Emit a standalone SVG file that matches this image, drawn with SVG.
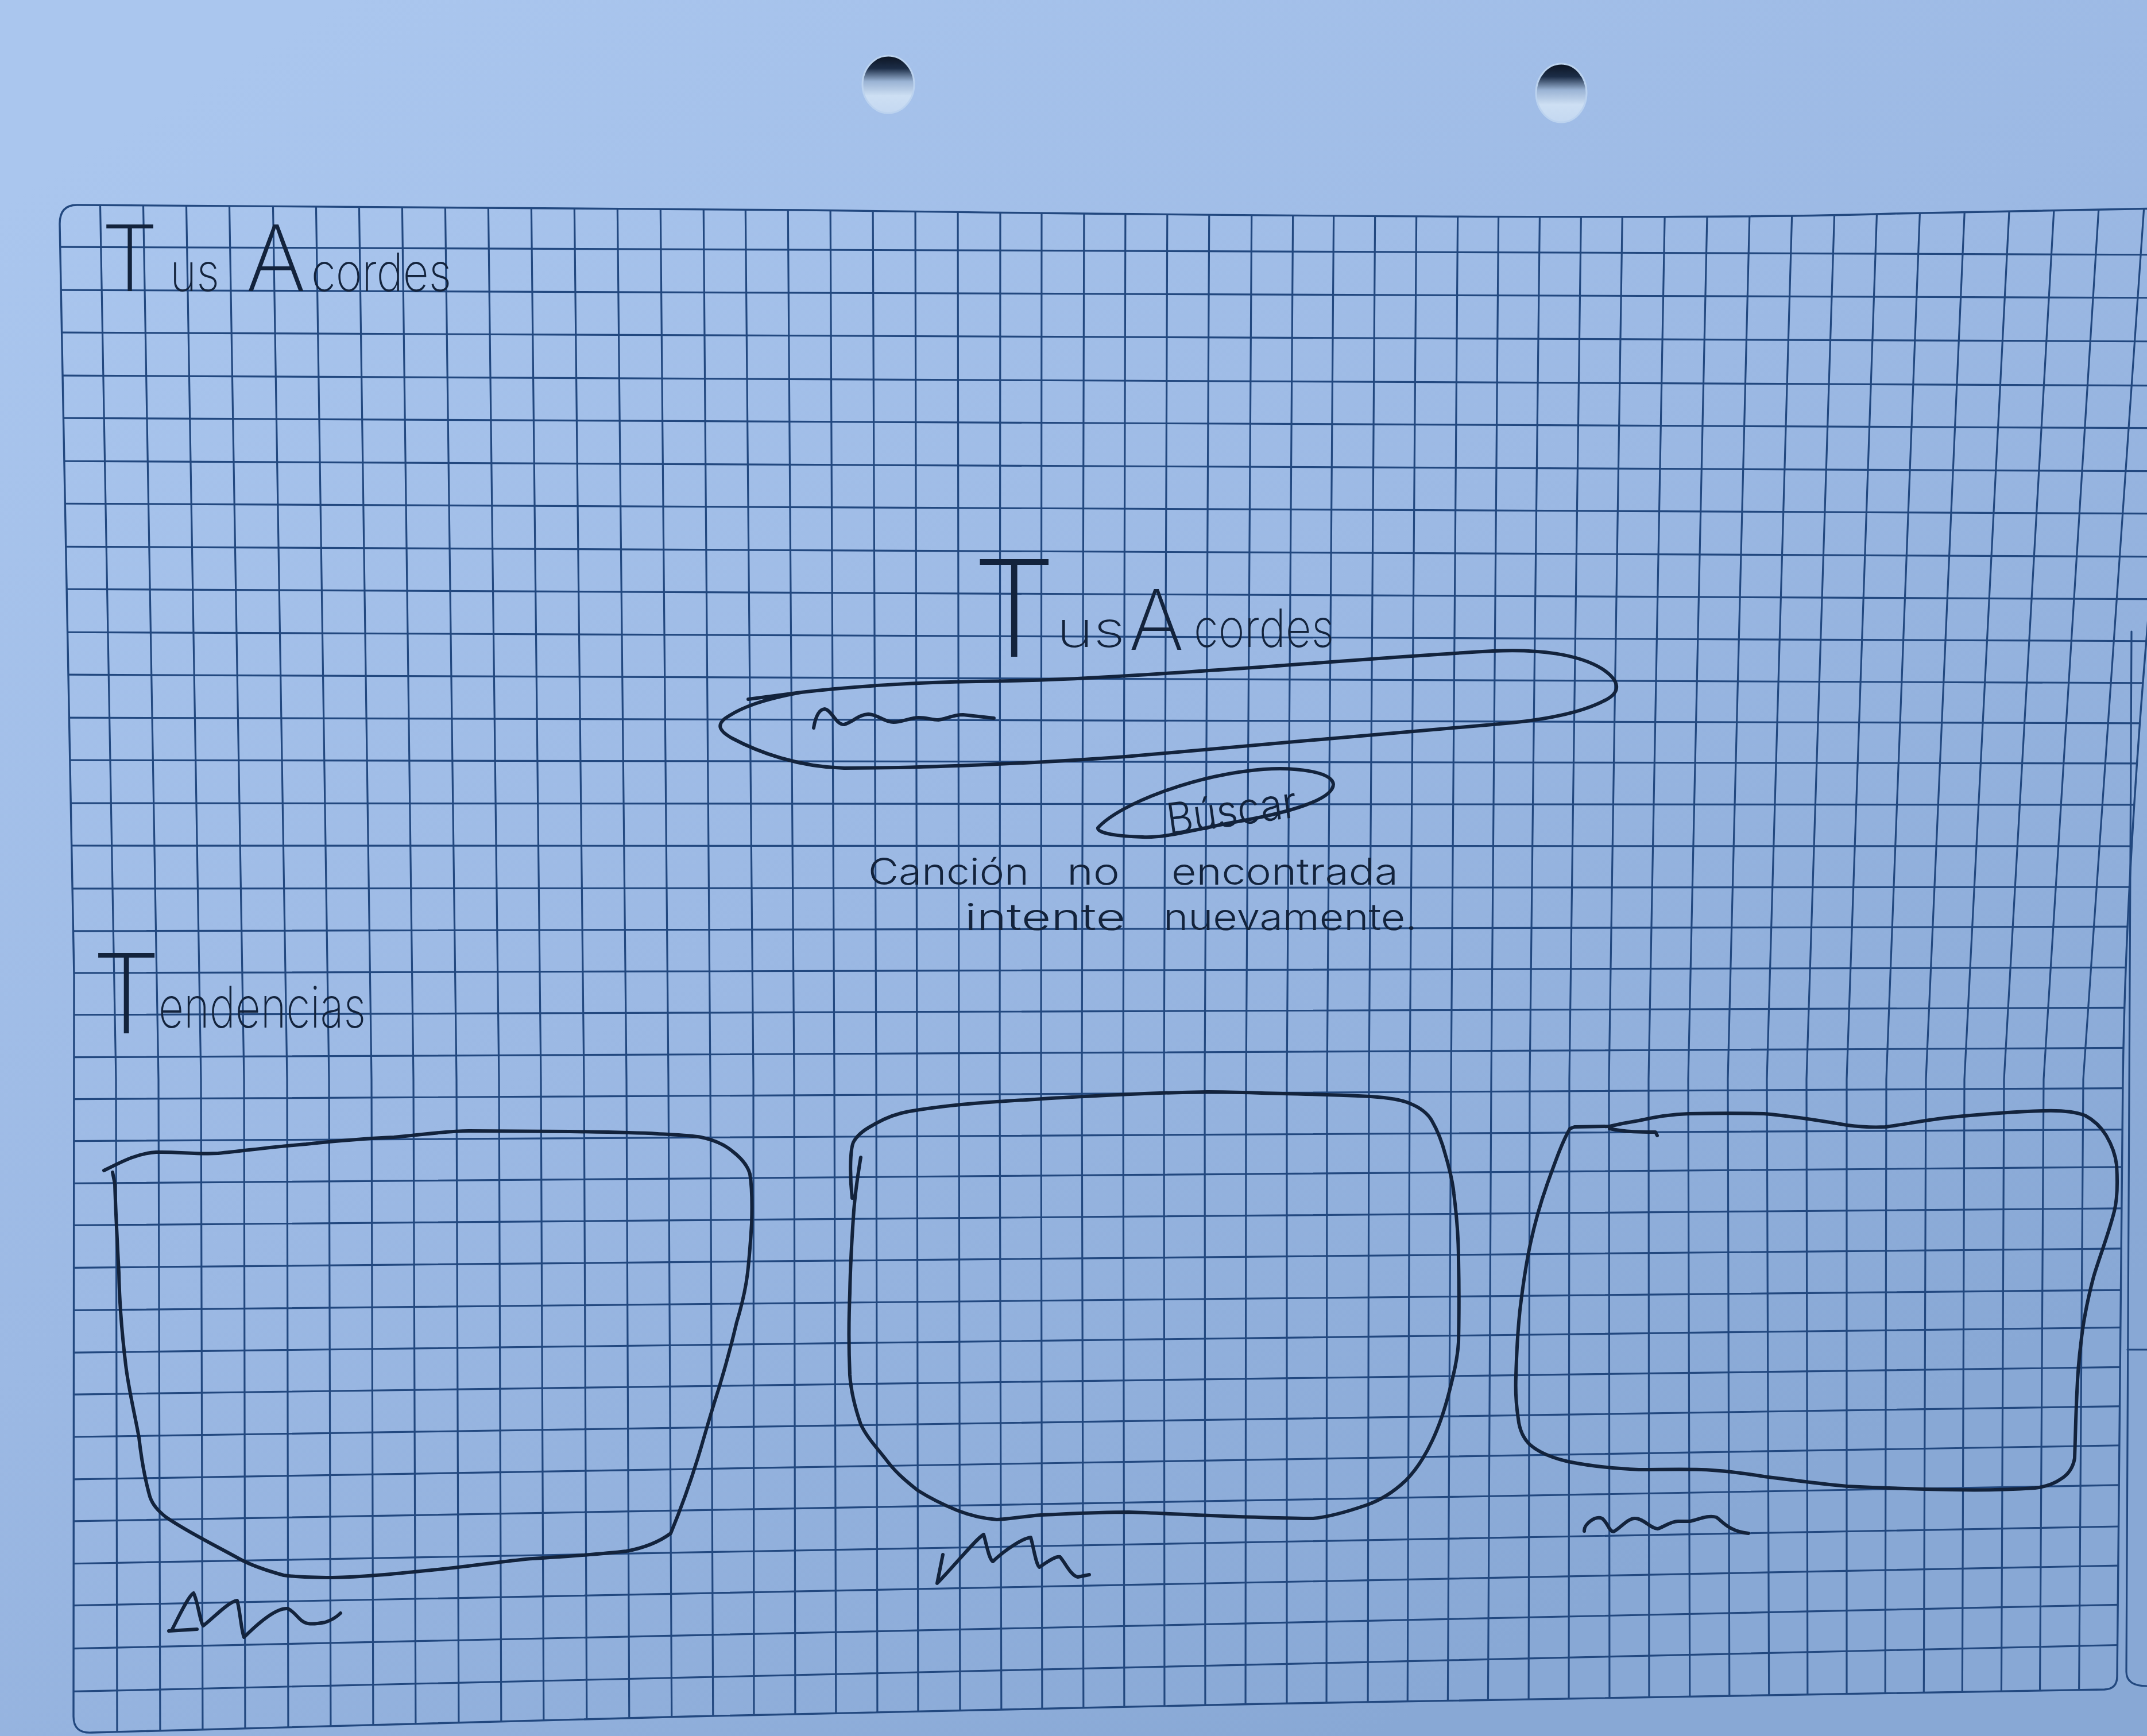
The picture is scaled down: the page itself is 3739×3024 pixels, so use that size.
<svg xmlns="http://www.w3.org/2000/svg" width="3739" height="3024" viewBox="0 0 3739 3024">
  <defs>
    <style>
      .grid { fill: none; stroke: #22487f; stroke-width: 3.2; stroke-linecap: round; stroke-linejoin: round; }
      .edge { fill: none; stroke: #22487f; stroke-width: 3.4; stroke-linejoin: round; }
      .ink { fill: none; stroke: #13233c; stroke-width: 6; stroke-linecap: round; stroke-linejoin: round; }
      .hand { font-family: Inter, "Open Sans", Roboto, "DejaVu Sans", sans-serif; font-weight: 200; fill: #13233c; }
      .small { font-weight: 300; }
    </style>
    <linearGradient id="paper" gradientUnits="userSpaceOnUse" x1="600" y1="0" x2="2400" y2="3024">
      <stop offset="0" stop-color="#aac6ee"/>
      <stop offset="0.5" stop-color="#9cb9e4"/>
      <stop offset="1" stop-color="#88a8d5"/>
    </linearGradient>
    <linearGradient id="hole" x1="0" y1="0" x2="0" y2="1">
      <stop offset="0" stop-color="#0c1422"/>
      <stop offset="0.22" stop-color="#1c2d47"/>
      <stop offset="0.45" stop-color="#9ab3d4"/>
      <stop offset="0.7" stop-color="#cddff3"/>
      <stop offset="1" stop-color="#c4d8f1"/>
    </linearGradient>
    <clipPath id="sheet">
      <path id="sheetEdge" d="M104,390 Q104,357 134,357 L1400,366 Q2900,386 3300,372 L3814,362 Q3705,1300 3697,1880 L3687,2920 Q3687,2942 3665,2943 L2200,2968 L1200,2990 L160,3018 Q128,3020 128,2990 L129,1700 Z"/>
    </clipPath>
  </defs>

  <!-- paper -->
  <rect x="0" y="0" width="3739" height="3024" fill="url(#paper)"/>

  <!-- punched holes -->
  <g id="holes">
    <ellipse cx="1547" cy="147" rx="45" ry="50" fill="url(#hole)" stroke="#bcd3ef" stroke-width="3"/>
    <ellipse cx="2719" cy="162" rx="44" ry="51" fill="url(#hole)" stroke="#bcd3ef" stroke-width="3"/>
  </g>

  <!-- edge of the sheet underneath -->
  <g id="next-sheet" class="grid">
    <path d="M3712,1100 L3703,2912 Q3703,2937 3739,2937"/>
    <path d="M3705,2351 L3739,2351"/>
  </g>

  <!-- squared grid of the sheet -->
  <g id="grid" clip-path="url(#sheet)">
    <path class="grid" d="M174,330L202,1880L204,3040 M249,330L276,1880L279,3040 M324,330L350,1880L353,3040 M399,330L425,1880L427,3040 M475,330L500,1880L502,3040 M550,330L573,1880L576,3040 M625,330L647,1880L650,3040 M700,330L720,1880L724,3040 M775,330L795,1880L799,3040 M850,330L869,1880L873,3040 M925,330L942,1880L947,3040 M1000,330L1017,1880L1022,3040 M1075,330L1091,1880L1096,3040 M1150,330L1164,1880L1170,3040 M1225,330L1237,1880L1242,3040 M1298,330L1312,1880L1313,3040 M1372,330L1383,1880L1385,3040 M1446,330L1453,1880L1456,3040 M1520,330L1526,1880L1528,3040 M1594,330L1597,1880L1599,3040 M1668,330L1670,1880L1672,3040 M1742,330L1741,1880L1744,3040 M1814,330L1813,1880L1815,3040 M1888,330L1884,1880L1887,3040 M1960,330L1956,1880L1958,3040 M2033,330L2027,1880L2028,3040 M2106,330L2098,1880L2099,3040 M2180,330L2170,1880L2169,3040 M2252,330L2241,1880L2241,3040 M2323,330L2311,1880L2310,3040 M2395,330L2384,1880L2382,3040 M2467,330L2455,1880L2451,3040 M2539,330L2527,1880L2521,3040 M2610,330L2597,1880L2591,3040 M2682,330L2664,1880L2662,3040 M2754,330L2733,1880L2732,3040 M2826,330L2802,1880L2803,3040 M2900,330L2871,1880L2872,3040 M2974,330L2940,1880L2943,3040 M3048,330L3009,1880L3012,3040 M3122,330L3077,1880L3081,3040 M3196,330L3146,1880L3148,3040 M3270,330L3216,1880L3216,3040 M3345,330L3285,1880L3283,3040 M3423,330L3354,1880L3350,3040 M3501,330L3421,1880L3417,3040 M3579,330L3490,1880L3485,3040 M3657,330L3559,1880L3552,3040 M3736,330L3628,1880L3620,3040"/>
    <path class="grid" d="M60,430L3800,444 M60,505L3800,519 M60,579L3800,595 M60,654L3800,672 M60,728L3800,746 M60,803L3800,821 M60,877L3800,895 M60,952L3800,970 M60,1026L3800,1044 M60,1101L3800,1117 M60,1175L3800,1190 M60,1250L3800,1260 M60,1324L3800,1330 M60,1399L3800,1402 M60,1473L3800,1474 M60,1548L3800,1545 M60,1622L3800,1614 M60,1695L3800,1685 M60,1768L3800,1755 M60,1842L3800,1825 M60,1915L3800,1895 M60,1988L3800,1967 M60,2062L3800,2032 M60,2135L3800,2104 M60,2209L3800,2174 M60,2283L3800,2246 M60,2357L3800,2311 M60,2430L3800,2380 M60,2504L3800,2448 M60,2578L3800,2516 M60,2651L3800,2585 M60,2725L3800,2657 M60,2798L3800,2725 M60,2873L3800,2793 M60,2948L3800,2863"/>
  </g>
  <use href="#sheetEdge" class="edge"/>

  <!-- page heading -->
  <g id="app-title">
    <text class="hand" y="507"><tspan x="176" font-size="160">T</tspan><tspan x="296" font-size="92" textLength="86" lengthAdjust="spacingAndGlyphs">us</tspan> <tspan x="428" font-size="160">A</tspan><tspan x="542" font-size="92" textLength="244" lengthAdjust="spacingAndGlyphs">cordes</tspan></text>
  </g>

  <!-- search screen heading -->
  <g id="search-title">
    <text class="hand" y="1130"><tspan x="1693" y="1144" font-size="234">T</tspan><tspan x="1840" y="1127" font-size="86" textLength="119" lengthAdjust="spacingAndGlyphs">us</tspan> <tspan x="1966" y="1132" font-size="146">A</tspan><tspan x="2079" y="1127" font-size="92" textLength="244" lengthAdjust="spacingAndGlyphs">cordes</tspan></text>
  </g>

  <!-- search field with placeholder scribble -->
  <g id="search-field">
    <path class="ink" d="M1303,1218 L1395,1206 C1480,1196 1600,1188 1700,1187 C1850,1186 2000,1175 2150,1165 C2300,1155 2450,1142 2600,1134 C2680,1130 2750,1140 2790,1165 C2820,1185 2825,1205 2795,1220 C2750,1244 2680,1256 2600,1262 C2400,1280 2150,1300 1960,1318 C1800,1330 1600,1338 1470,1338 C1390,1336 1320,1310 1275,1286 C1250,1272 1250,1262 1262,1252 C1290,1232 1330,1218 1395,1206"/>
    <path class="ink" stroke-width="5" d="M1417,1268 C1420,1250 1426,1236 1436,1235 C1448,1236 1455,1262 1470,1262 C1485,1258 1495,1245 1512,1244 C1528,1244 1540,1258 1556,1258 C1572,1258 1585,1250 1600,1250 C1615,1250 1622,1254 1634,1254 C1648,1252 1660,1245 1677,1245 L1731,1251"/>
  </g>

  <!-- search button -->
  <g id="search-button">
    <path class="ink" stroke-width="5" d="M1912,1442 C1950,1400 2080,1350 2200,1340 C2260,1336 2320,1345 2322,1366 C2322,1392 2250,1415 2150,1432 C2080,1445 2030,1460 1990,1458 C1950,1457 1910,1452 1912,1442 Z"/>
    <text class="hand small" x="2030" y="1438" font-size="76" textLength="228" lengthAdjust="spacingAndGlyphs" transform="rotate(-8 2150 1405)">Búscar</text>
  </g>

  <!-- not-found message -->
  <g id="message">
    <text class="hand small" y="1541" font-size="64"><tspan x="1512" textLength="280" lengthAdjust="spacingAndGlyphs">Canción</tspan> <tspan x="1858" textLength="92" lengthAdjust="spacingAndGlyphs">no</tspan> <tspan x="2040" textLength="395" lengthAdjust="spacingAndGlyphs">encontrada</tspan></text>
    <text class="hand small" y="1620" font-size="64"><tspan x="1680" textLength="280" lengthAdjust="spacingAndGlyphs">intente</tspan> <tspan x="2026" textLength="442" lengthAdjust="spacingAndGlyphs">nuevamente.</tspan></text>
  </g>

  <!-- trends section heading -->
  <g id="trends-title">
    <text class="hand" y="1790"><tspan x="160" y="1800" font-size="192">T</tspan><tspan x="276" y="1790" font-size="100" textLength="361" lengthAdjust="spacingAndGlyphs">endencias</tspan></text>
  </g>

  <!-- trend card 1 -->
  <g id="card-1">
    <path class="ink" d="M181,2039 C215,2022 240,2009 272,2007 C310,2006 340,2011 380,2009 C430,2004 480,1997 533,1993 C590,1987 640,1983 686,1981 C740,1976 780,1970 816,1970 C880,1970 940,1971 992,1971 C1060,1972 1110,1973 1145,1975 C1180,1977 1205,1978 1221,1981 C1245,1986 1262,1994 1275,2005 C1292,2018 1302,2030 1306,2045 C1310,2070 1310,2100 1309,2131 C1307,2165 1305,2190 1302,2217 C1298,2250 1290,2280 1283,2303 C1272,2350 1262,2385 1252,2418 C1240,2455 1230,2490 1221,2521 C1205,2575 1185,2630 1168,2671 C1145,2688 1118,2697 1091,2702 C1030,2709 970,2712 915,2716 C860,2722 810,2729 762,2734 C700,2740 640,2747 579,2748 C545,2748 515,2747 494,2744 C465,2736 440,2728 418,2716 C375,2692 325,2668 288,2642 C276,2632 266,2622 261,2607 C252,2575 246,2540 242,2504 C234,2460 224,2420 219,2378 C212,2320 208,2270 207,2217 C204,2160 201,2100 200,2062 L196,2042"/>
    <path class="ink" stroke-width="5" d="M294,2841 L343,2838 M300,2838 C312,2815 328,2780 337,2775 C345,2790 348,2825 354,2832 C372,2818 398,2790 413,2788 C418,2805 420,2840 425,2852 C445,2832 480,2800 501,2802 C515,2808 522,2826 536,2828 C548,2830 560,2827 566,2826 C578,2822 588,2815 593,2810"/>
  </g>

  <!-- trend card 2 -->
  <g id="card-2">
    <path class="ink" d="M1484,2087 C1480,2050 1480,2005 1486,1990 C1492,1978 1505,1968 1520,1960 C1540,1948 1560,1940 1583,1936 C1630,1928 1690,1922 1736,1919 C1790,1916 1840,1912 1889,1910 C1960,1906 2040,1903 2103,1902 C2150,1902 2190,1904 2234,1905 C2290,1906 2340,1908 2387,1910 C2415,1912 2440,1915 2455,1922 C2475,1930 2488,1942 2494,1953 C2505,1972 2512,1992 2517,2011 C2524,2035 2530,2058 2532,2080 C2537,2120 2540,2160 2540,2194 C2541,2240 2541,2290 2540,2338 C2538,2370 2530,2400 2524,2424 C2516,2455 2506,2485 2494,2510 C2480,2540 2465,2562 2448,2579 C2428,2598 2405,2613 2379,2622 C2350,2632 2318,2642 2287,2645 C2240,2645 2200,2643 2157,2642 C2090,2640 2030,2636 1966,2634 C1910,2634 1860,2637 1813,2639 C1785,2641 1760,2646 1736,2647 C1710,2645 1690,2640 1667,2631 C1640,2620 1617,2608 1598,2596 C1578,2580 1560,2565 1545,2545 C1530,2525 1510,2505 1499,2481 C1490,2455 1482,2425 1480,2395 C1478,2350 1478,2300 1480,2252 C1481,2200 1484,2150 1487,2108 C1490,2070 1495,2040 1499,2016"/>
    <path class="ink" stroke-width="5" d="M1642,2708 L1632,2758 C1660,2730 1700,2680 1713,2673 C1718,2690 1722,2715 1729,2720 C1750,2700 1780,2680 1795,2678 C1800,2695 1804,2725 1810,2730 C1822,2722 1838,2710 1846,2712 C1855,2722 1865,2745 1877,2747 L1897,2743"/>
  </g>

  <!-- trend card 3 -->
  <g id="card-3">
    <path class="ink" d="M2803,1962 C2820,1958 2835,1955 2854,1952 C2880,1946 2910,1941 2941,1940 C2990,1939 3030,1939 3072,1940 C3120,1944 3170,1952 3217,1960 C3240,1963 3262,1964 3283,1963 C3320,1958 3360,1950 3399,1946 C3450,1941 3510,1936 3559,1935 C3590,1934 3615,1937 3631,1943 C3648,1952 3660,1965 3668,1978 C3678,1995 3684,2012 3686,2029 C3688,2060 3687,2090 3682,2110 C3672,2150 3656,2190 3646,2224 C3636,2262 3628,2300 3624,2339 C3620,2370 3618,2400 3617,2425 C3615,2465 3614,2510 3613,2540 C3610,2558 3600,2570 3588,2577 C3575,2586 3560,2590 3544,2592 C3500,2595 3450,2596 3399,2595 C3340,2594 3280,2592 3217,2589 C3170,2585 3120,2578 3072,2572 C3035,2566 3000,2561 2963,2560 C2925,2559 2890,2560 2854,2560 C2810,2558 2770,2554 2731,2546 C2705,2540 2680,2530 2665,2517 C2652,2505 2646,2490 2644,2471 C2640,2445 2639,2420 2640,2397 C2641,2360 2643,2320 2647,2282 C2652,2240 2658,2200 2665,2167 C2673,2130 2683,2095 2694,2064 C2708,2025 2720,1990 2734,1966 L2742,1963 L2803,1962"/>
    <path class="ink" stroke-width="5" d="M2803,1966 C2830,1972 2860,1972 2883,1972 L2886,1978"/>
    <path class="ink" stroke-width="5" d="M2759,2667 C2758,2655 2778,2640 2790,2645 C2800,2652 2802,2668 2810,2668 C2822,2662 2835,2644 2848,2645 C2862,2645 2875,2663 2887,2663 C2897,2660 2910,2650 2922,2650 L2943,2650 C2955,2648 2975,2638 2989,2643 C3000,2650 3010,2667 3045,2671"/>
  </g>
</svg>
